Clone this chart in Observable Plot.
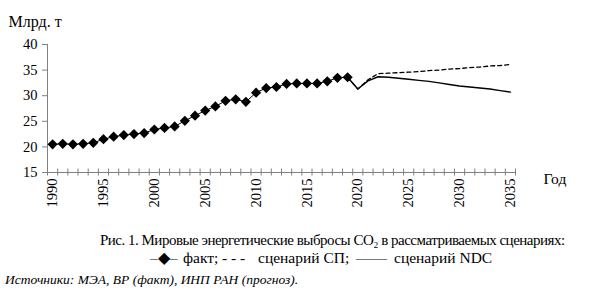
<!DOCTYPE html>
<html>
<head>
<meta charset="utf-8">
<script src="https://cdn.jsdelivr.net/npm/d3@7"></script>
<script src="https://cdn.jsdelivr.net/npm/@observablehq/plot@0.6"></script>
<style>
  html, body { margin: 0; padding: 0; background: #fff; }
  body { width: 590px; height: 295px; overflow: hidden; font-family: "Liberation Serif", "Times New Roman", serif; color: #000; }
  #chart svg { display: block; }
  .cap1 { font-size: 15px; line-height: 18px; white-space: nowrap; letter-spacing: -0.5px; }
  .cap2 { position: relative; height: 18px; font-size: 15.5px; line-height: 18px; white-space: nowrap; }
  .cap2 span { position: absolute; top: 0; }
  .src { font-size: 13.5px; line-height: 18px; font-style: italic; white-space: nowrap; padding-left: 5px; }
</style>
</head>
<body>
<div id="chart"></div>
<div class="cap1" style="margin-top:16px; padding-left:100px;">Рис. 1. Мировые энергетические выбросы CO₂ в рассматриваемых сценариях:</div>
<div class="cap2">
  <span style="left:150px;">–◆–</span>
  <span style="left:183px;">факт;</span>
  <span style="left:222px;">- - -</span>
  <span style="left:258px;">сценарий СП;</span>
  <span style="left:356px;">——</span>
  <span style="left:394px;">сценарий NDC</span>
</div>
<div class="src" style="margin-top:4px;">Источники: МЭА, ВР (факт), ИНП РАН (прогноз).</div>
<script>
const factYears = [1990,1991,1992,1993,1994,1995,1996,1997,1998,1999,2000,2001,2002,2003,2004,2005,2006,2007,2008,2009,2010,2011,2012,2013,2014,2015,2016,2017,2018,2019];
const factValues = [20.5,20.6,20.5,20.6,20.8,21.5,22.0,22.3,22.5,22.7,23.4,23.7,24.0,25.1,26.1,27.1,27.9,29.0,29.3,28.8,30.6,31.5,31.7,32.3,32.4,32.4,32.4,32.8,33.5,33.6];
const scenYears = [2019,2020,2021,2022,2023,2024,2025,2026,2027,2028,2029,2030,2031,2032,2033,2034,2035];
const spValues = [33.6,31.3,33.1,34.3,34.4,34.5,34.6,34.7,34.9,35.0,35.2,35.3,35.5,35.6,35.8,35.9,36.1];
const ndcValues = [33.6,31.3,32.9,33.7,33.6,33.4,33.2,33.0,32.8,32.5,32.2,31.9,31.7,31.5,31.3,31.0,30.7];
const yTicks = [15,20,25,30,35,40];
const xLabelYears = [1990,1995,2000,2005,2010,2015,2020,2025,2030,2035];
const allYears = [1990,1991,1992,1993,1994,1995,1996,1997,1998,1999,2000,2001,2002,2003,2004,2005,2006,2007,2008,2009,2010,2011,2012,2013,2014,2015,2016,2017,2018,2019,2020,2021,2022,2023,2024,2025,2026,2027,2028,2029,2030,2031,2032,2033,2034,2035];
const yLabel = "Млрд. т";
const xLabel = "Год";

const fact = factYears.map((year, i) => ({year, value: factValues[i]}));
const sp = scenYears.map((year, i) => ({year, value: spValues[i]}));
const ndc = scenYears.map((year, i) => ({year, value: ndcValues[i]}));
// category boundaries (ticks between categories)
const bounds = allYears.map(y => y - 0.5).concat([allYears[allYears.length - 1] + 0.5]);

const axisGray = "#808080";
const chart = Plot.plot({
  width: 590,
  height: 215,
  marginLeft: 47,
  marginRight: 75,
  marginTop: 44,
  marginBottom: 43,
  style: {fontFamily: "'Liberation Serif', 'Times New Roman', serif", fontSize: "14px", color: "#000", background: "#fff"},
  x: {type: "linear", domain: [bounds[0], bounds[bounds.length - 1]], axis: null},
  y: {domain: [15, 40], axis: null},
  marks: [
    Plot.ruleY([15], {x1: bounds[0], x2: bounds[bounds.length - 1], stroke: axisGray, strokeWidth: 1}),
    Plot.ruleX(bounds, {x: d => d, y1: 15, y2: 15, insetTop: -3.5, insetBottom: -3.5, stroke: axisGray, strokeWidth: 1}),
    Plot.ruleX([bounds[0]], {y1: 15, y2: 40, stroke: axisGray, strokeWidth: 1}),
    Plot.axisY(yTicks, {tickSize: 5, tickPadding: 5, stroke: axisGray, fill: "#000", fontSize: 14.5, label: null}),
    Plot.axisX(xLabelYears, {tickSize: 0, tickPadding: 6, tickRotate: -90, tickFormat: d => String(d), fill: "#000", fontSize: 14.5, label: null}),
    Plot.line(sp, {x: "year", y: "value", stroke: "#000", strokeWidth: 1.3, strokeDasharray: "4,3"}),
    Plot.line(ndc, {x: "year", y: "value", stroke: "#000", strokeWidth: 1.4}),
    Plot.line(fact, {x: "year", y: "value", stroke: "#000", strokeWidth: 1}),
    Plot.dot(fact, {x: "year", y: "value", symbol: "diamond2", r: 4.6, fill: "#000", stroke: "none"}),
    Plot.text([yLabel], {text: d => d, frameAnchor: "top-left", dx: -39, dy: -29, textAnchor: "start", fontSize: 16, fill: "#000"}),
    Plot.text([xLabel], {text: d => d, frameAnchor: "bottom-right", dx: 28, dy: 11, textAnchor: "start", fontSize: 15.5, fill: "#000"})
  ]
});
document.getElementById("chart").appendChild(chart);
</script>
</body>
</html>
